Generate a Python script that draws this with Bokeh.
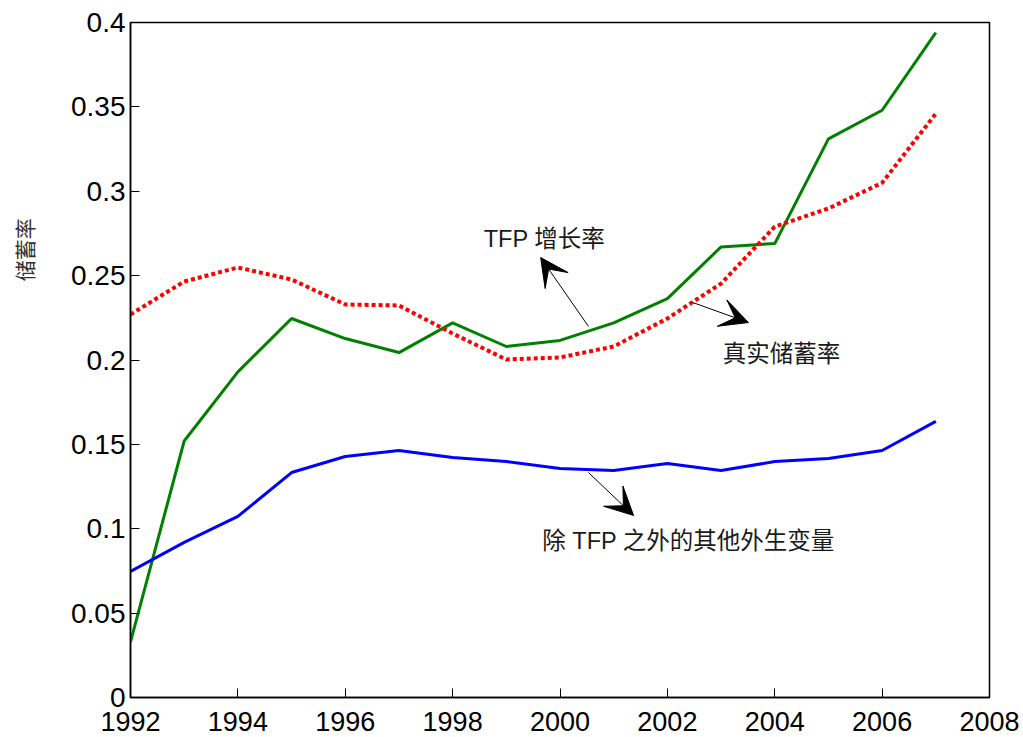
from bokeh.embed import file_html
from bokeh.models import Arrow, FixedTicker, Label, VeeHead
from bokeh.plotting import figure
from bokeh.resources import INLINE

# Years on the horizontal axis
years = list(range(1992, 2008))

# Savings-rate decomposition series
tfp_growth = [0.033, 0.152, 0.193, 0.2246, 0.2127, 0.2044, 0.222, 0.208,
              0.2116, 0.222, 0.2364, 0.267, 0.269, 0.331, 0.348, 0.394]
real_saving = [0.227, 0.2465, 0.2548, 0.2477, 0.2329, 0.2323, 0.2157, 0.2003,
               0.2015, 0.208, 0.2246, 0.2453, 0.279, 0.2898, 0.305, 0.346]
other_exog = [0.0747, 0.0919, 0.1073, 0.1333, 0.1428, 0.1464, 0.1422, 0.1398,
              0.1357, 0.1345, 0.1387, 0.1345, 0.1398, 0.1416, 0.1464, 0.1636]

# Axis ticks
x_ticks = list(range(1992, 2009, 2))
y_ticks = [0, 0.05, 0.1, 0.15, 0.2, 0.25, 0.3, 0.35, 0.4]
y_tick_labels = ["0", "0.05", "0.1", "0.15", "0.2", "0.25", "0.3", "0.35", "0.4"]

# Annotation texts and arrows (data coordinates)
note_texts = ["TFP 增长率", "真实储蓄率", "除 TFP 之外的其他外生变量"]
note_x = [1998.58, 2003.03, 1999.67]
note_y = [0.272, 0.2033, 0.093]
arrow_x0 = [2000.53, 2002.47, 2000.53]
arrow_y0 = [0.2199, 0.2341, 0.1333]
arrow_x1 = [1999.64, 2003.51, 2001.37]
arrow_y1 = [0.2607, 0.2222, 0.1079]

LATIN_CJK = "'Liberation Sans', Arial, 'Noto Sans CJK SC'"

p = figure(width=1023, height=737, output_backend="svg", toolbar_location=None,
           x_range=(1992, 2008), y_range=(0, 0.4),
           min_border_left=130, min_border_right=34, min_border_top=22,
           min_border_bottom=40)
p.background_fill_color = "white"
p.border_fill_color = "white"
p.grid.visible = False
p.outline_line_color = "black"
p.outline_line_width = 1.5

p.line(years, tfp_growth, line_color="#008000", line_width=3)
p.line(years, real_saving, line_color="#ff0000", line_width=4,
       line_dash="4 3")
p.line(years, other_exog, line_color="#0000ff", line_width=3)

for ax in (p.xaxis[0], p.yaxis[0]):
    ax.axis_line_color = "black"
    ax.axis_line_width = 1.5
    ax.major_tick_in = 9
    ax.major_tick_out = 0
    ax.minor_tick_in = 0
    ax.minor_tick_out = 0
    ax.major_tick_line_color = "black"
    ax.major_label_text_color = "black"
    ax.major_label_text_font = LATIN_CJK

p.xaxis.ticker = FixedTicker(ticks=x_ticks)
p.xaxis.major_label_text_font_size = "27px"
p.xaxis.major_label_standoff = 14

p.yaxis.ticker = FixedTicker(ticks=y_ticks)
p.yaxis.major_label_overrides = {t: s for t, s in zip(y_ticks, y_tick_labels)}
p.yaxis.major_label_text_font_size = "28px"
p.yaxis.major_label_standoff = 5

# Vertical axis title, padded with wide spaces so it sits above centre
p.yaxis.axis_label = "\u3000" * 10 + "\u2002" + "储蓄率"
p.yaxis.axis_label_text_font = "Noto Sans CJK SC"
p.yaxis.axis_label_text_font_size = "21px"
p.yaxis.axis_label_text_font_style = "normal"
p.yaxis.axis_label_text_color = "#333333"
p.yaxis.axis_label_standoff = 29

for tx, ty, txt in zip(note_x, note_y, note_texts):
    p.add_layout(Label(x=tx, y=ty, text=txt, text_align="left",
                       text_baseline="middle", text_font=LATIN_CJK,
                       text_font_size="23.5px", text_color="#1a1a1a"))

for xs, ys, xe, ye in zip(arrow_x0, arrow_y0, arrow_x1, arrow_y1):
    p.add_layout(Arrow(x_start=xs, y_start=ys, x_end=xe, y_end=ye,
                       line_color="black", line_width=1,
                       end=VeeHead(size=28, fill_color="black",
                                   line_color="black", line_width=1)))

open("out.html", "w").write(file_html(p, INLINE))
